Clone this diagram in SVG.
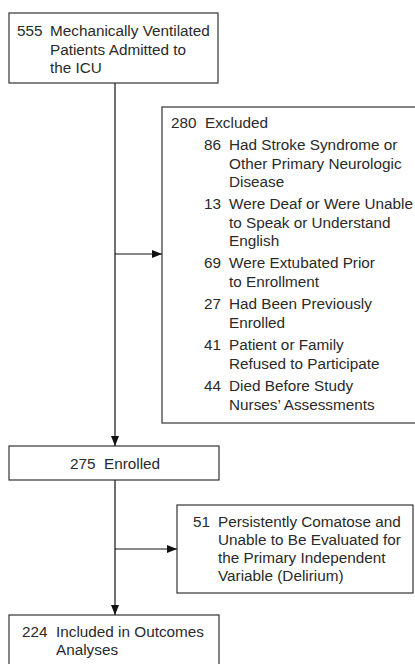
<svg xmlns="http://www.w3.org/2000/svg" width="415" height="664" viewBox="0 0 415 664">
<style>
.box{fill:#fff;stroke:#333;stroke-width:1.2}
.t{font-family:"Liberation Sans",Arial,sans-serif;font-size:15.3px;fill:#2a2a2a}
.c{stroke:#111;stroke-width:1.2;fill:none}
</style>
<defs>
<marker id="ah" viewBox="0 0 10 8" refX="10" refY="4" markerWidth="10" markerHeight="8" markerUnits="userSpaceOnUse" orient="auto">
<path d="M0,0 L10,4 L0,8 Z" fill="#111"/>
</marker>
</defs>
<g id="connectors">
<line class="c" x1="115" y1="83" x2="115" y2="446" marker-end="url(#ah)"/>
<line class="c" x1="115" y1="254" x2="162" y2="254" marker-end="url(#ah)"/>
<line class="c" x1="115" y1="480" x2="115" y2="615" marker-end="url(#ah)"/>
<line class="c" x1="115" y1="549" x2="177" y2="549" marker-end="url(#ah)"/>
</g>
<g id="admitted">
<rect class="box" x="9" y="13" width="209" height="70"/>
<text class="t"><tspan x="17" y="36">555</tspan><tspan x="50" y="36">Mechanically Ventilated</tspan><tspan x="50" y="54.5">Patients Admitted to</tspan><tspan x="50" y="73">the ICU</tspan></text>
</g>
<g id="excluded">
<rect class="box" x="162" y="107" width="262" height="316"/>
<text class="t">
<tspan x="171" y="128">280</tspan><tspan x="205" y="128">Excluded</tspan>
<tspan x="204" y="150">86</tspan><tspan x="229" y="150">Had Stroke Syndrome or</tspan>
<tspan x="229" y="168.5">Other Primary Neurologic</tspan>
<tspan x="229" y="187">Disease</tspan>
<tspan x="204" y="209">13</tspan><tspan x="229" y="209">Were Deaf or Were Unable</tspan>
<tspan x="229" y="227.5">to Speak or Understand</tspan>
<tspan x="229" y="246">English</tspan>
<tspan x="204" y="268">69</tspan><tspan x="229" y="268">Were Extubated Prior</tspan>
<tspan x="229" y="286.5">to Enrollment</tspan>
<tspan x="204" y="309">27</tspan><tspan x="229" y="309">Had Been Previously</tspan>
<tspan x="229" y="327.5">Enrolled</tspan>
<tspan x="204" y="350">41</tspan><tspan x="229" y="350">Patient or Family</tspan>
<tspan x="229" y="368.5">Refused to Participate</tspan>
<tspan x="204" y="391">44</tspan><tspan x="229" y="391">Died Before Study</tspan>
<tspan x="229" y="409.5">Nurses’ Assessments</tspan>
</text>
</g>
<g id="enrolled">
<rect class="box" x="9" y="446" width="210" height="34"/>
<text class="t"><tspan x="70" y="469">275</tspan><tspan x="104" y="469">Enrolled</tspan></text>
</g>
<g id="comatose">
<rect class="box" x="177" y="505" width="236" height="88"/>
<text class="t"><tspan x="193" y="527">51</tspan><tspan x="218" y="527">Persistently Comatose and</tspan><tspan x="218" y="545">Unable to Be Evaluated for</tspan><tspan x="218" y="563">the Primary Independent</tspan><tspan x="218" y="581">Variable (Delirium)</tspan></text>
</g>
<g id="included">
<rect class="box" x="9" y="615" width="210" height="60"/>
<text class="t"><tspan x="22" y="637">224</tspan><tspan x="56" y="637">Included in Outcomes</tspan><tspan x="56" y="655">Analyses</tspan></text>
</g>
</svg>
